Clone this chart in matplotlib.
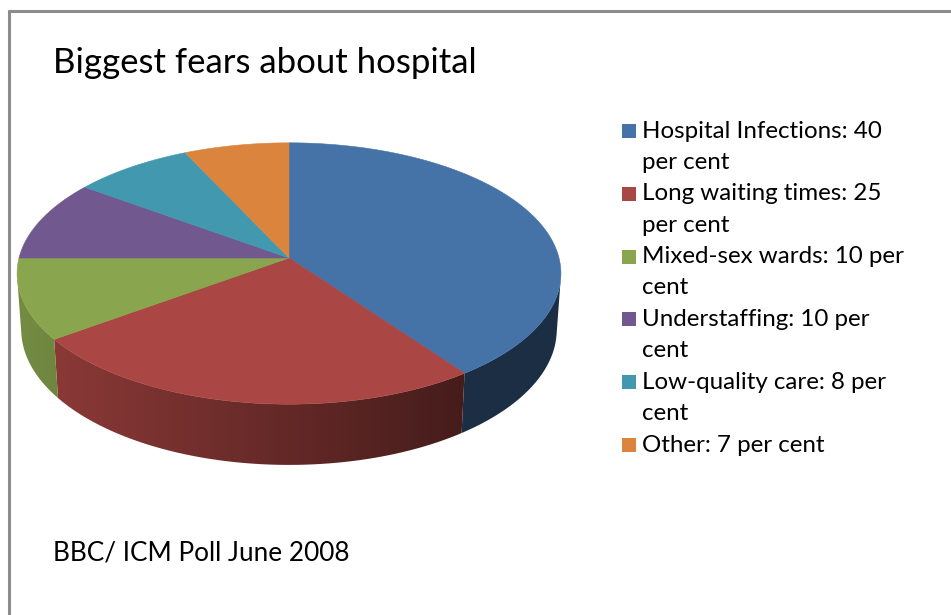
import textwrap

import matplotlib as mpl
import matplotlib.pyplot as plt
from matplotlib.patches import Polygon, Rectangle
import numpy as np

# Poll results (per cent)
categories = ["Hospital Infections", "Long waiting times", "Mixed-sex wards",
              "Understaffing", "Low-quality care", "Other"]
values = [40, 25, 10, 10, 8, 7]
colors = ["#4572A7", "#AA4643", "#89A54E", "#71588F", "#4198AF", "#DB843D"]

title = "Biggest fears about hospital"
source = "BBC/ ICM Poll June 2008"

mpl.rcParams.update({
    "font.family": ["Lato", "DejaVu Sans"],
    "text.color": "black",
})

fig = plt.figure(figsize=(9.51, 6.15), dpi=100)
ax = fig.add_axes([0, 0, 1, 1])

# --- 3d pie: perspective projection of a disc (pixel units, y down) ---
cx, cy = 289, 258
scale = 270                  # screen radius at the centre depth
tilt = np.radians(28.5)      # elevation of the view
persp = 0.135                # radius / camera distance
height = 0.239               # thickness / radius


def project(theta, z=0.0):
    """theta in degrees clockwise from 12 o'clock, z=0 top, z<0 below."""
    t = np.radians(theta)
    X, Y = np.sin(t), np.cos(t)
    d = 1 + persp * (Y * np.cos(tilt) - z * np.sin(tilt))
    sx = cx + scale * X / d
    sy = cy - scale * (Y * np.sin(tilt) + z * np.cos(tilt)) / d
    return sx, sy


# angular range where the side wall faces the viewer
edge = np.degrees(np.arccos(-persp / np.cos(tilt)))
vis0, vis1 = edge, 360 - edge

total = sum(values)
bounds = np.concatenate([[0], np.cumsum(values)]) / total * 360

# horizontal shading of the side wall: lighter on the left, dark on the right
gx = np.linspace(0, 600, 601)
shade = np.clip(0.85 - (gx - 16) / 447 * 0.44, 0.41, 0.85)

for i, col in enumerate(colors):
    a0, a1 = max(bounds[i], vis0), min(bounds[i + 1], vis1)
    if a1 <= a0:
        continue
    th = np.linspace(a0, a1, 200)
    tx, ty = project(th)
    bx, by = project(th, -height)
    pts = np.column_stack([np.r_[tx, bx[::-1]], np.r_[ty, by[::-1]]])
    clip = Polygon(pts, closed=True, facecolor="none", edgecolor="none")
    ax.add_patch(clip)
    rgb = np.array(mpl.colors.to_rgb(col))
    grad = (shade[:, None] * rgb[None, :])[None, :, :]
    im = ax.imshow(grad, extent=(0, 600, 480, 130), aspect="auto",
                   interpolation="bilinear", zorder=1)
    im.set_clip_path(clip)

# top face
for i, col in enumerate(colors):
    th = np.linspace(bounds[i], bounds[i + 1], 200)
    xs, ys = project(th)
    pts = np.column_stack([np.r_[cx, xs], np.r_[cy, ys]])
    ax.add_patch(Polygon(pts, closed=True, facecolor=col, edgecolor=col,
                         linewidth=0.4, zorder=2))

ax.set_xlim(0, 951)
ax.set_ylim(615, 0)
ax.set_aspect("auto")
ax.axis("off")

# --- text ---
ax.text(53, 63, title, fontsize=25, va="center", ha="left")
ax.text(53, 553, source, fontsize=18.8, va="center", ha="left")

# legend with wrapped labels
line_h = 31.4
y = 131
for cat, val, col in zip(categories, values, colors):
    label = f"{cat}: {val} per cent"
    lines = textwrap.wrap(label, width=24, break_on_hyphens=False)
    ax.add_patch(Rectangle((622, y - 7), 14, 14, facecolor=col, edgecolor="none"))
    for j, ln in enumerate(lines):
        ax.text(642, y + j * line_h, ln, fontsize=17.4, va="center", ha="left")
    y += line_h * len(lines)

# chart frame (top and left edges only)
ax.plot([8, 951], [10.5, 10.5], color="#8C8C8C", linewidth=2.2,
        solid_capstyle="butt")
ax.plot([8.5, 8.5], [10, 615], color="#8C8C8C", linewidth=2.2,
        solid_capstyle="butt")

fig.savefig("out.png", dpi=100)
